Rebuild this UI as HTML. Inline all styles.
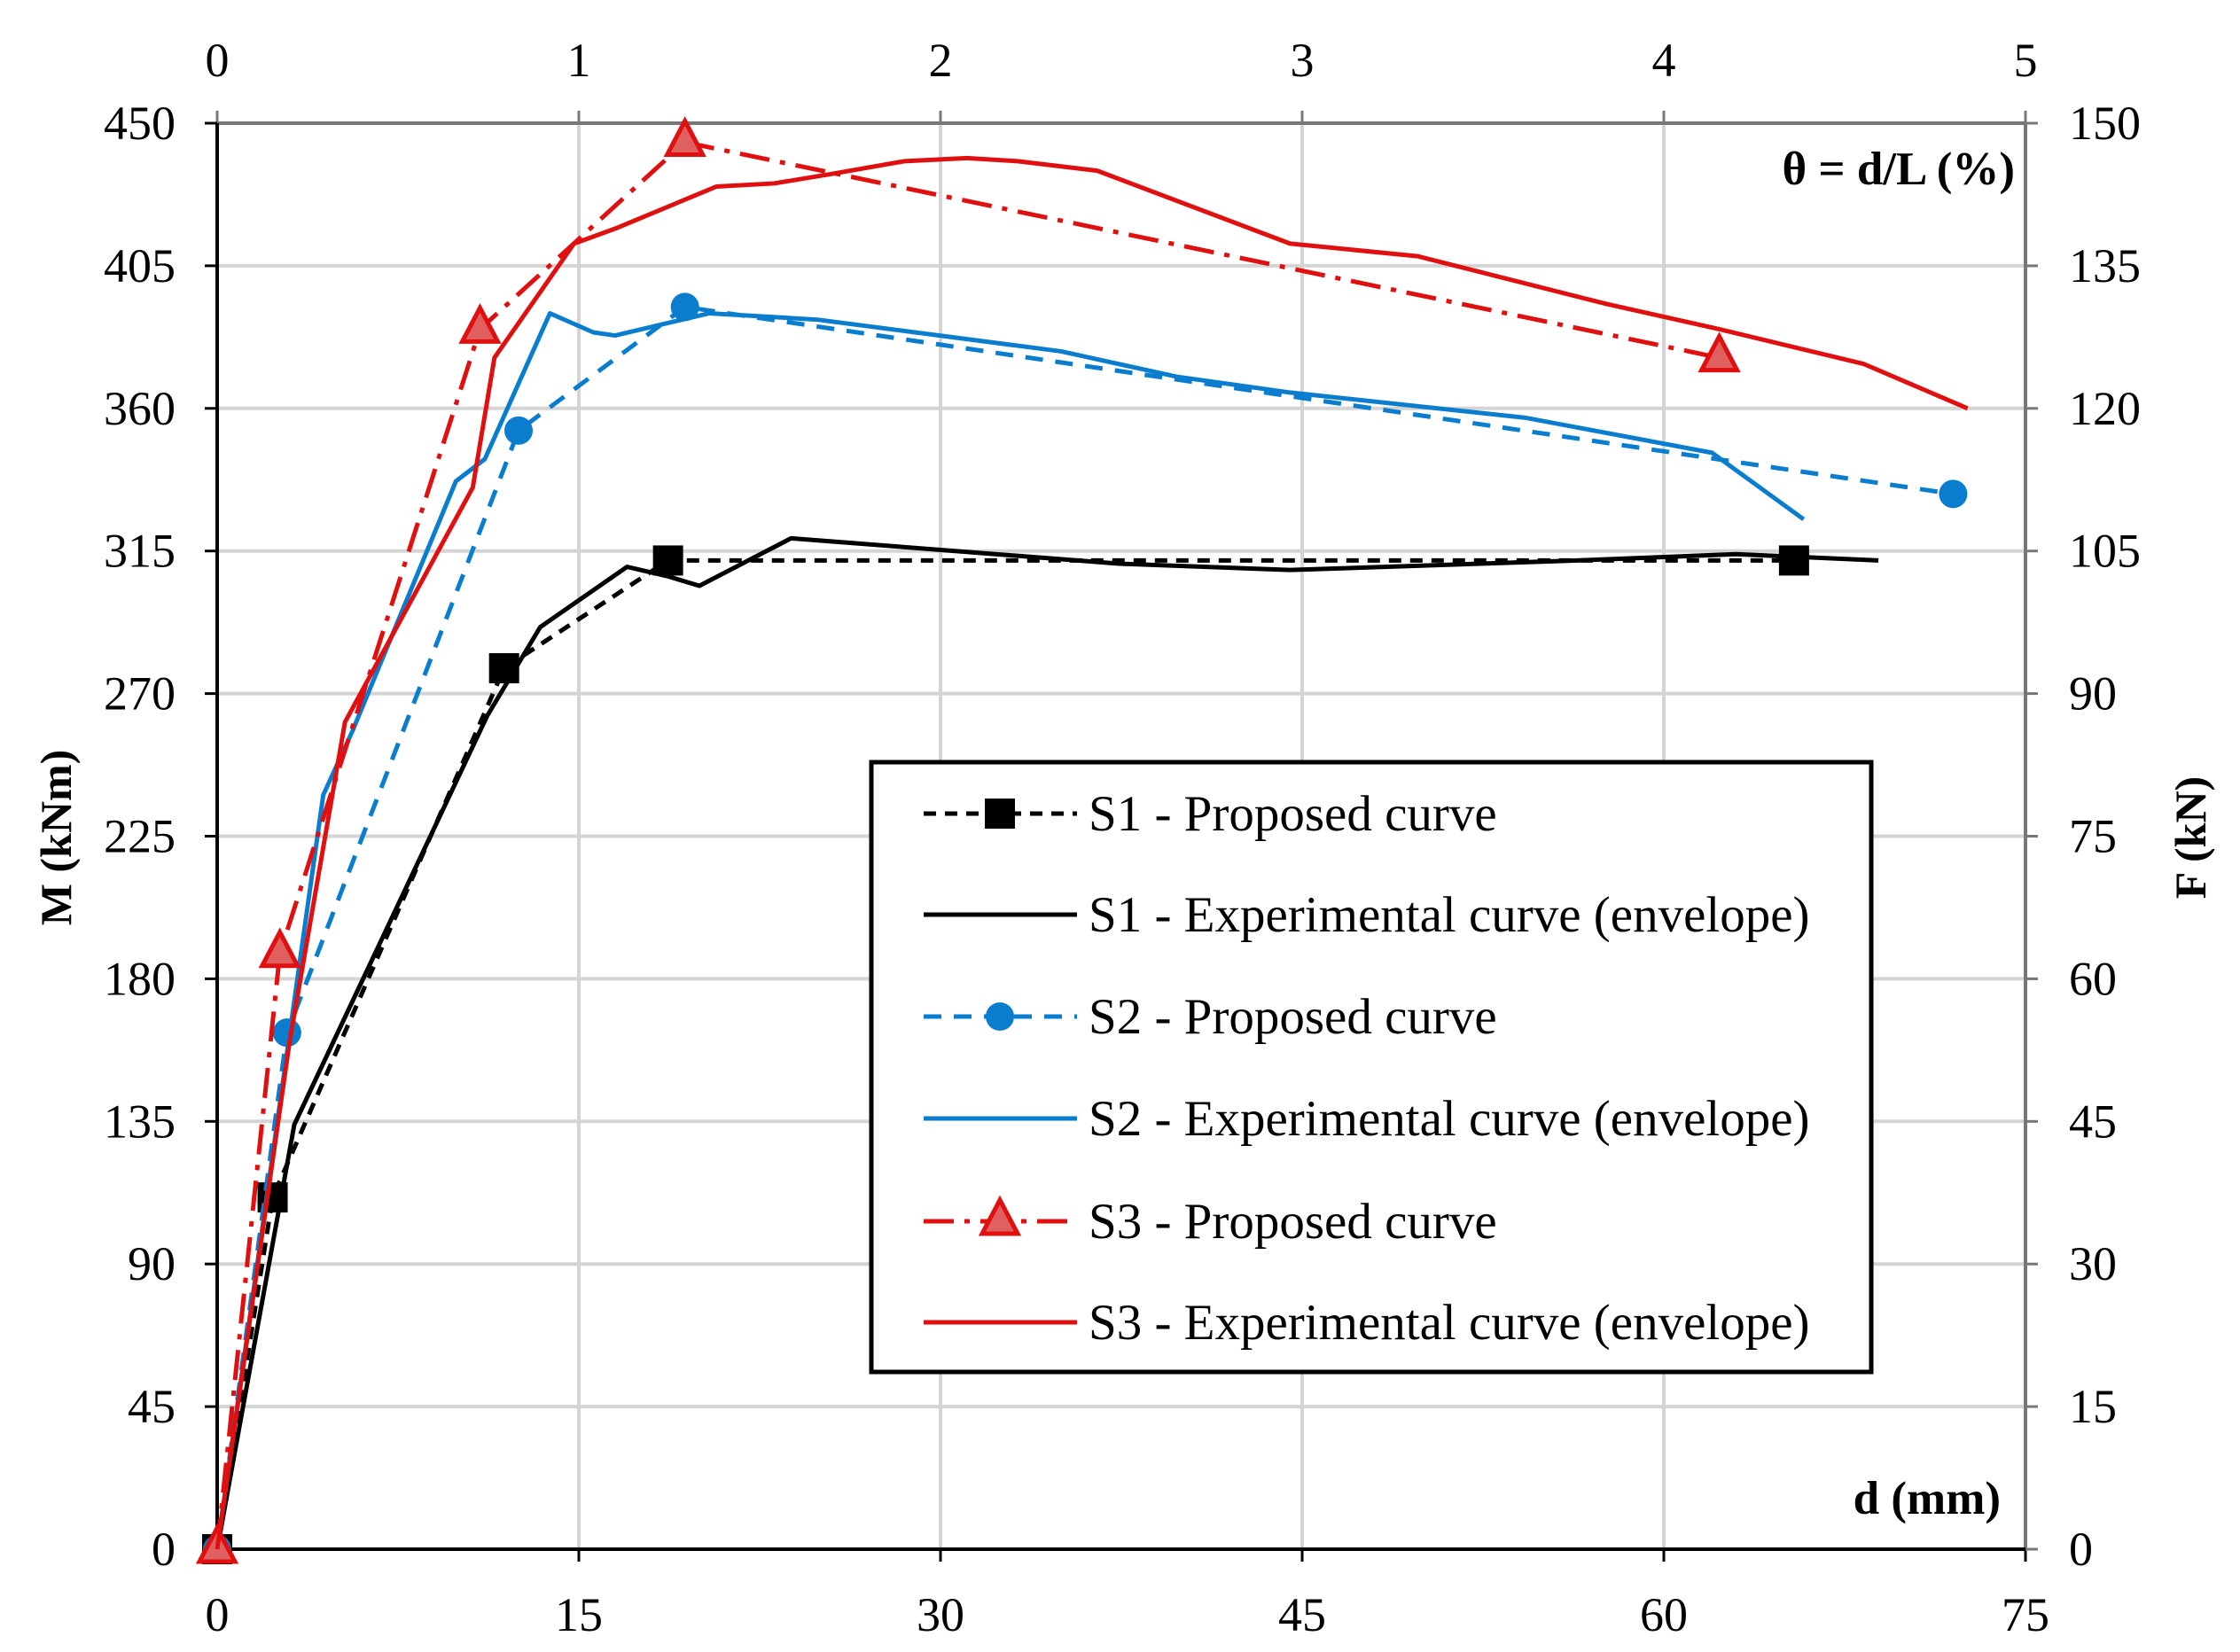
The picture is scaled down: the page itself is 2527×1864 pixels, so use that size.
<!DOCTYPE html>
<html><head><meta charset="utf-8"><style>
html,body{margin:0;padding:0;background:#fff;}
svg{display:block;font-family:"Liberation Serif",serif;}
</style></head><body>
<svg id="chart" width="2527" height="1864" viewBox="0 0 2527 1864" xmlns="http://www.w3.org/2000/svg">
<g id="grid"></g>
<g id="axes"></g>
<g id="series"></g>
<text x="0" y="0" transform="translate(80,945) rotate(-90)" text-anchor="middle" font-size="50" font-weight="bold">M (kNm)</text>
<text x="0" y="0" transform="translate(2488,945) rotate(-90)" text-anchor="middle" font-size="50" font-weight="bold">F (kN)</text>
<text x="2273" y="208" text-anchor="end" font-size="53" font-weight="bold">θ = d/L (%)</text>
<text x="2257" y="1708" text-anchor="end" font-size="53" font-weight="bold">d (mm)</text>
<g id="legend"></g>
</svg>
<script>
const xTicks=[0,15,30,45,60,75];
const yTicks=[0,45,90,135,180,225,270,315,360,405,450];
const topTicks=[0,1,2,3,4,5];
const rightTicks=[0,15,30,45,60,75,90,105,120,135,150];
const s1pX=[0,2.3,11.9,18.7,65.4];
const s1pY=[0,111,278,312,312];
const s1eX=[0,3.2,11.2,13.4,17,18.7,20,23.8,37.4,44.5,56.4,63,68.9];
const s1eY=[0,134,263,291,310,307,304,319,311,309,312,314,312];
const s2pX=[0,2.9,12.5,19.4,72];
const s2pY=[0,163,353,392,333];
const s2eX=[0,4.4,5.6,9.9,11.1,13.8,15.6,16.5,20.4,24.9,35,39.8,44.5,54.3,62,65.8];
const s2eY=[0,238,258,337,344,390,384,383,390,388,378,370,365,357,346,325];
const s3pX=[0,2.6,10.9,19.4,62.3];
const s3pY=[0,188,385,444,376];
const s3eX=[0,3.0,5.3,10.6,11.5,14.8,16.6,20.7,23.1,25.5,28.5,31.1,33.2,36.5,44.5,49.8,57.6,62.3,68.3,72.6];
const s3eY=[0,160,261,335,376,412,417,430,431,434,438,439,438,435,412,408,393,385,374,360];
const legendLabels=["S1 - Proposed curve","S1 - Experimental curve (envelope)","S2 - Proposed curve","S2 - Experimental curve (envelope)","S3 - Proposed curve","S3 - Experimental curve (envelope)"];

const L=245,R=2285,T=139,B=1748;
const sx=v=>L+v/75*(R-L);
const sy=v=>B-v/450*(B-T);
const NS="http://www.w3.org/2000/svg";
function mk(tag,attrs,parent){const e=document.createElementNS(NS,tag);for(const k in attrs)e.setAttribute(k,attrs[k]);parent.appendChild(e);return e;}
const grid=document.getElementById('grid'),axes=document.getElementById('axes'),ser=document.getElementById('series'),leg=document.getElementById('legend');

xTicks.forEach((t,i)=>{
  if(i>0&&i<xTicks.length-1){const g=mk('line',{x1:sx(t),x2:sx(t),y1:T,y2:B,stroke:'#d4d4d4','stroke-width':4},grid);
  
  }
  const tk=mk('text',{x:sx(t),y:1840,'text-anchor':'middle','font-size':54},axes);tk.textContent=t;
  
  
  mk('line',{x1:sx(t),x2:sx(t),y1:B,y2:B+14,stroke:'#000','stroke-width':3},axes);
});
topTicks.forEach((t,i)=>{
  const x=sx(xTicks[i]);
  const tk=mk('text',{x:x,y:86,'text-anchor':'middle','font-size':54},axes);tk.textContent=t;
  
  
  mk('line',{x1:x,x2:x,y1:T,y2:T-14,stroke:'#777','stroke-width':3},axes);
});
yTicks.forEach((t,i)=>{
  if(i>0&&i<yTicks.length-1){const g=mk('line',{x1:L,x2:R,y1:sy(t),y2:sy(t),stroke:'#d4d4d4','stroke-width':4},grid);
  
  }
  const tk=mk('text',{x:198,y:sy(t)+18,'text-anchor':'end','font-size':54},axes);tk.textContent=t;
  
  
  mk('line',{x1:L-14,x2:L,y1:sy(t),y2:sy(t),stroke:'#000','stroke-width':3},axes);
  const rt=mk('text',{x:2334,y:sy(t)+18,'text-anchor':'start','font-size':54},axes);rt.textContent=rightTicks[i];
  
  
  mk('line',{x1:R,x2:R+14,y1:sy(t),y2:sy(t),stroke:'#777','stroke-width':3},axes);
});
mk('line',{x1:L,x2:R,y1:T,y2:T,stroke:'#777','stroke-width':4},axes);
mk('line',{x1:R,x2:R,y1:T,y2:B,stroke:'#777','stroke-width':4},axes);
mk('line',{x1:L,x2:L,y1:T,y2:B,stroke:'#000','stroke-width':4},axes);
mk('line',{x1:L,x2:R,y1:B,y2:B,stroke:'#000','stroke-width':4},axes);

function marker(type,x,y,color,parent){
  if(type==='sq') return mk('rect',{x:x-17,y:y-17,width:34,height:34,fill:color},parent);
  if(type==='ci') return mk('circle',{cx:x,cy:y,r:16,fill:color},parent);
  if(type==='tr') return mk('path',{d:`M${x},${y-24} L${x+20},${y+14} L${x-20},${y+14} Z`,fill:'#e06060',stroke:color,'stroke-width':5},parent);
}
const seriesDefs=[
  {xs:s1pX,ys:s1pY,c:'#000',dash:'14,10',m:'sq',name:'s1-proposed'},
  {xs:s1eX,ys:s1eY,c:'#000',dash:'',m:null,name:'s1-experimental'},
  {xs:s2pX,ys:s2pY,c:'#0a7dce',dash:'20,14',m:'ci',name:'s2-proposed'},
  {xs:s2eX,ys:s2eY,c:'#0a7dce',dash:'',m:null,name:'s2-experimental'},
  {xs:s3pX,ys:s3pY,c:'#e01010',dash:'34,12,6,12',m:'tr',name:'s3-proposed'},
  {xs:s3eX,ys:s3eY,c:'#e01010',dash:'',m:null,name:'s3-experimental'}
];
seriesDefs.forEach(s=>{
  const pts=s.xs.map((v,i)=>sx(v)+','+sy(s.ys[i])).join(' ');
  const pl=mk('polyline',{points:pts,fill:'none',stroke:s.c,'stroke-width':5,'stroke-dasharray':s.dash,'stroke-linejoin':'round'},ser);
  
  
  if(s.m){s.xs.forEach((v,i)=>{const mm=marker(s.m,sx(v),sy(s.ys[i]),s.c,ser);
    
    });}
});

const box=mk('rect',{x:983,y:860,width:1128,height:688,fill:'#fff',stroke:'#000','stroke-width':5},leg);


const rowY=[918,1032,1147,1262,1378,1492];
seriesDefs.forEach((s,i)=>{
  const y=rowY[i];
  mk('line',{x1:1042,x2:1215,y1:y,y2:y,stroke:s.c,'stroke-width':5,'stroke-dasharray':s.dash},leg);
  if(s.m) marker(s.m,1128,y,s.c,leg);
  const t=mk('text',{x:1228,y:y+19,'font-size':57},leg);t.textContent=legendLabels[i];
  
  
});
</script>
</body></html>
